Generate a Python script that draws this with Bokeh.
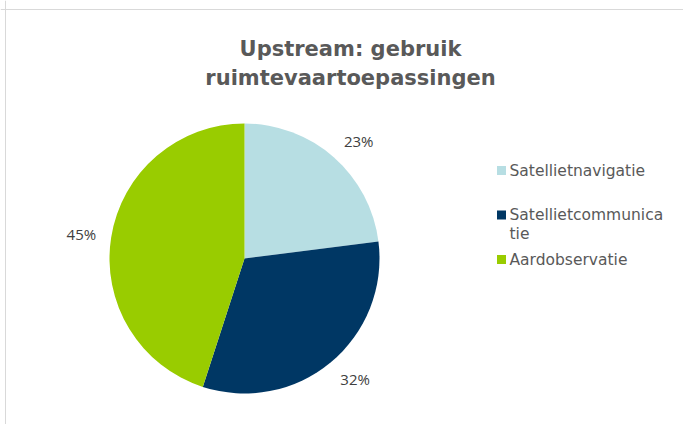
import math
from bokeh.plotting import figure
from bokeh.models import Range1d, ColumnDataSource, Span
from bokeh.core.properties import value
from bokeh.embed import file_html
from bokeh.resources import INLINE

# ---- data ----
categories = ["Satellietnavigatie", "Satellietcommunicatie", "Aardobservatie"]
shares = [23, 32, 45]
colors = ["#B7DEE3", "#003764", "#99CC00"]
title_lines = ["Upstream: gebruik", "ruimtevaartoepassingen"]

W, H = 683, 424
p = figure(width=W, height=H, output_backend="svg", toolbar_location=None,
           x_range=Range1d(0, W), y_range=Range1d(0, H),
           min_border=0, match_aspect=False)
p.axis.visible = False
p.grid.visible = False
p.outline_line_color = None
p.background_fill_color = "white"
p.border_fill_color = "white"

# chart-area frame (top and left edges visible)
p.add_layout(Span(location=5, dimension="height", line_color="#D9D9D9", line_width=1))
p.add_layout(Span(location=H - 9, dimension="width", line_color="#D9D9D9", line_width=1))

cx, cy, r = 244, H - 258, 135
total = sum(shares)
starts, ends, mids = [], [], []
cum = 0
for s in shares:
    a0 = math.pi / 2 - cum / total * 2 * math.pi
    cum += s
    a1 = math.pi / 2 - cum / total * 2 * math.pi
    starts.append(a0)
    ends.append(a1)
    mids.append((a0 + a1) / 2)

src = ColumnDataSource(dict(start=starts, end=ends, color=colors, cat=categories))
p.wedge(x=cx, y=cy, radius=r, start_angle="start", end_angle="end",
        direction="clock", fill_color="color", line_color=None,
        source=src)

# percentage labels (outside end, box pushed away from the pie)
R = 150
lx_ = [cx + R * math.cos(m) + 15 * (1 if math.cos(m) >= 0 else -1) for m in mids]
ly_ = [cy + (R + 7) * math.sin(m) for m in mids]
p.text(x=lx_, y=ly_, text=[f"{s}%" for s in shares],
       text_font=value("Open Sans"), text_font_size="15px", text_color="#404040",
       text_align="center", text_baseline="middle")

# title
p.text(x=[350, 350], y=[H - 48, H - 77], text=title_lines,
       text_font=value("DejaVu Sans"), text_font_style="bold", text_font_size="21px",
       text_color="#595959", text_align="center", text_baseline="middle")

# legend
lx, ly0, dy = 501, H - 170, 44.5
line_h = 19
for i, (c, col) in enumerate(zip(categories, colors)):
    y = ly0 - i * dy
    p.scatter(x=[lx], y=[y], marker="square", size=9, fill_color=col, line_color=None)
    chunks = [c[k:k + 18] for k in range(0, len(c), 18)]
    p.text(x=[lx + 8] * len(chunks), y=[y - j * line_h for j in range(len(chunks))],
           text=chunks, text_font=value("DejaVu Sans"), text_font_size="15.5px",
           text_color="#595959", text_align="left", text_baseline="middle")

open("out.html", "w").write(file_html(p, INLINE))
